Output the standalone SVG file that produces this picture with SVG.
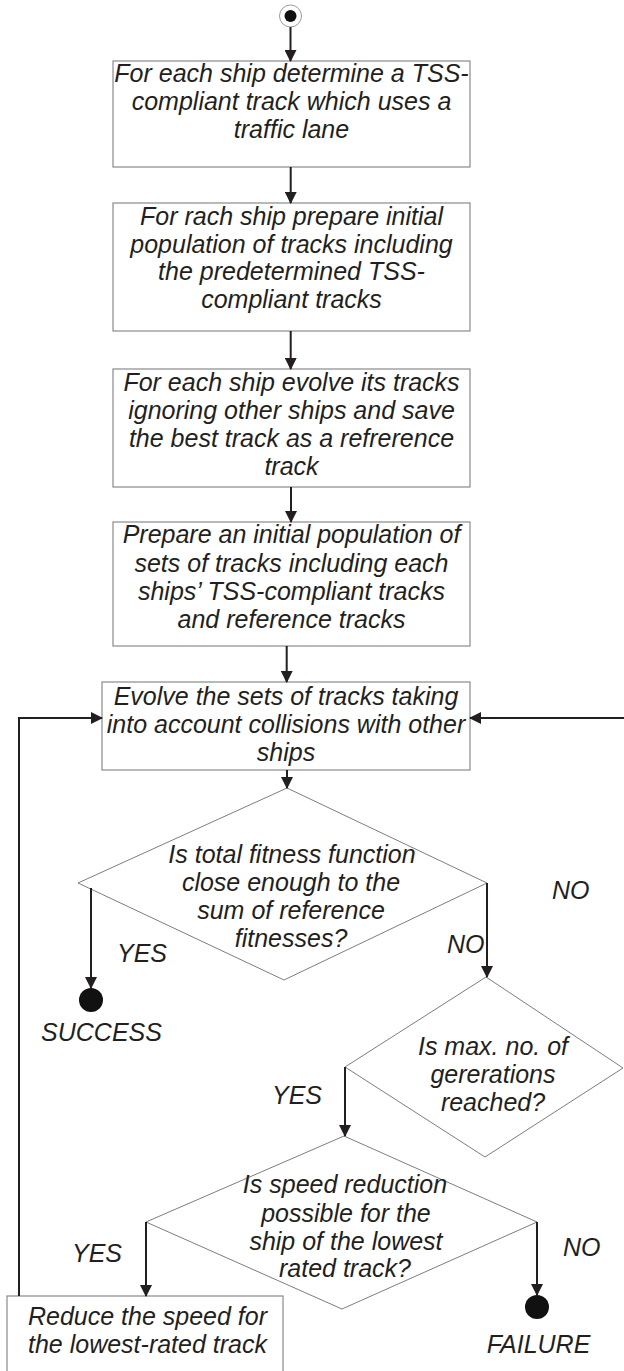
<svg xmlns="http://www.w3.org/2000/svg" width="624" height="1371" viewBox="0 0 624 1371">
<defs>
<style>
.t{font-family:"Liberation Sans",Arial,sans-serif;font-style:italic;font-size:25px;fill:#231f20}
.c{text-anchor:middle}
.box{fill:#fff;stroke:#8a8a8a;stroke-width:1.2}
.dia{fill:#fff;stroke:#6e6e6e;stroke-width:0.9}
.ln{fill:none;stroke:#231f20;stroke-width:2}
.dot{fill:#111}
</style>
<marker id="ah" viewBox="0 0 12 12" refX="11" refY="6" markerWidth="12" markerHeight="12" markerUnits="userSpaceOnUse" orient="auto">
<path d="M0,0 L12,6 L0,12 Z" fill="#231f20"/>
</marker>
</defs>
<rect width="624" height="1371" fill="#fff"/>

<g id="start">
<circle cx="290.5" cy="16" r="11" fill="#fff" stroke="#9a9a9a" stroke-width="1"/>
<circle cx="290.5" cy="16" r="6" class="dot"/>
</g>

<g id="box1">
<rect class="box" x="113" y="61" width="357" height="106"/>
<text class="t c" x="291.5" y="82">For each ship determine a TSS-</text>
<text class="t c" x="291.5" y="110">compliant track which uses a</text>
<text class="t c" x="291.5" y="138">traffic lane</text>
</g>

<g id="box2">
<rect class="box" x="113" y="203" width="357" height="128"/>
<text class="t c" x="291.5" y="225">For rach ship prepare initial</text>
<text class="t c" x="291.5" y="253">population of tracks including</text>
<text class="t c" x="291.5" y="280">the predetermined TSS-</text>
<text class="t c" x="291.5" y="308">compliant tracks</text>
</g>

<g id="box3">
<rect class="box" x="113" y="369" width="357" height="118"/>
<text class="t c" x="291.5" y="391">For each ship evolve its tracks</text>
<text class="t c" x="291.5" y="419">ignoring other ships and save</text>
<text class="t c" x="291.5" y="447">the best track as a refrerence</text>
<text class="t c" x="291.5" y="475">track</text>
</g>

<g id="box4">
<rect class="box" x="113" y="522" width="357" height="124"/>
<text class="t c" x="291.5" y="543">Prepare an initial population of</text>
<text class="t c" x="291.5" y="572">sets of tracks including each</text>
<text class="t c" x="291.5" y="600">ships’ TSS-compliant tracks</text>
<text class="t c" x="291.5" y="628">and reference tracks</text>
</g>

<g id="box5">
<rect class="box" x="102" y="682" width="368" height="88"/>
<text class="t c" x="286" y="705">Evolve the sets of tracks taking</text>
<text class="t c" x="286" y="733">into account collisions with other</text>
<text class="t c" x="286" y="761">ships</text>
</g>

<g id="decision1">
<polygon class="dia" points="287,788 487,883 284,980 78,883"/>
<text class="t c" x="292" y="863">Is total fitness function</text>
<text class="t c" x="291" y="891">close enough to the</text>
<text class="t c" x="291" y="919">sum of reference</text>
<text class="t c" x="291" y="947">fitnesses?</text>
</g>

<g id="success">
<circle cx="91" cy="1000" r="12" class="dot"/>
<text class="t c" x="101.5" y="1041">SUCCESS</text>
</g>

<g id="decision2">
<polygon class="dia" points="486,977 623,1068 485,1157 345,1067"/>
<text class="t c" x="493" y="1055">Is max. no. of</text>
<text class="t c" x="493" y="1083">gererations</text>
<text class="t c" x="493" y="1111">reached?</text>
</g>

<g id="decision3">
<polygon class="dia" points="344,1136 537,1222 342,1309 146,1222"/>
<text class="t c" x="345" y="1193">Is speed reduction</text>
<text class="t c" x="346" y="1222">possible for the</text>
<text class="t c" x="346" y="1250">ship of the lowest</text>
<text class="t c" x="345" y="1277">rated track?</text>
</g>

<g id="box6">
<rect class="box" x="7" y="1296" width="276" height="90"/>
<text class="t c" x="147.5" y="1325">Reduce the speed for</text>
<text class="t c" x="147.5" y="1353">the lowest-rated track</text>
</g>

<g id="failure">
<circle cx="537" cy="1307" r="12" class="dot"/>
<text class="t c" x="538.5" y="1353">FAILURE</text>
</g>

<g id="connectors">
<line class="ln" x1="290.5" y1="27" x2="290.5" y2="61" marker-end="url(#ah)"/>
<line class="ln" x1="290.7" y1="167" x2="290.7" y2="203" marker-end="url(#ah)"/>
<line class="ln" x1="290.7" y1="331" x2="290.7" y2="369" marker-end="url(#ah)"/>
<line class="ln" x1="291" y1="487" x2="291" y2="522" marker-end="url(#ah)"/>
<line class="ln" x1="286.7" y1="646" x2="286.7" y2="682" marker-end="url(#ah)"/>
<line class="ln" x1="287" y1="770" x2="287" y2="788" marker-end="url(#ah)"/>
<line class="ln" x1="91" y1="888" x2="91" y2="988" marker-end="url(#ah)"/>
<line class="ln" x1="487" y1="883" x2="487" y2="977" marker-end="url(#ah)"/>
<line class="ln" x1="345" y1="1067" x2="345" y2="1136" marker-end="url(#ah)"/>
<line class="ln" x1="146" y1="1222" x2="146" y2="1296" marker-end="url(#ah)"/>
<line class="ln" x1="537" y1="1222" x2="537" y2="1295" marker-end="url(#ah)"/>
<polyline class="ln" points="19,1296 19,718 102,718" marker-end="url(#ah)"/>
<line class="ln" x1="624" y1="718" x2="470" y2="718" marker-end="url(#ah)"/>
<text class="t" x="117" y="962">YES</text>
<text class="t" x="447" y="953">NO</text>
<text class="t" x="552" y="899">NO</text>
<text class="t" x="272" y="1104">YES</text>
<text class="t" x="72" y="1262">YES</text>
<text class="t" x="563" y="1256">NO</text>
</g>
</svg>
